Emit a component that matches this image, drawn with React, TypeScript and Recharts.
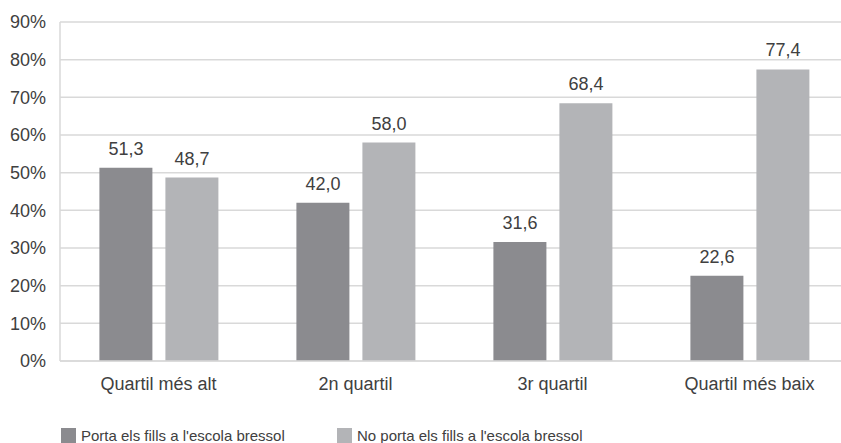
import { BarChart, Bar, XAxis, YAxis, CartesianGrid, Legend, LabelList } from "recharts";

// categories and values (%)
const quartils = ["Quartil més alt", "2n quartil", "3r quartil", "Quartil més baix"];
const porta = [51.3, 42.0, 31.6, 22.6];
const noPorta = [48.7, 58.0, 68.4, 77.4];
const yTicks = [0, 10, 20, 30, 40, 50, 60, 70, 80, 90];

const seriesNames = ["Porta els fills a l'escola bressol", "No porta els fills a l'escola bressol"];
const colors = ["#8b8b8f", "#b3b4b7"];

const data = quartils.map((q, i) => ({ name: q, porta: porta[i], noPorta: noPorta[i] }));

const fontFamily = "'Liberation Sans', Arial, sans-serif";
const textColor = "#404040";

const fmt = (v: any) => Number(v).toFixed(1).replace(".", ",");

function LegendBox() {
    return (
        <div style={{ display: "flex", fontFamily, fontSize: 15, lineHeight: "15px", color: textColor }}>
            {seriesNames.map((n, i) => (
                <div key={n} style={{ display: "flex", alignItems: "flex-start", width: i === 0 ? 276 : "auto" }}>
                    <span style={{ display: "inline-block", width: 15, height: 15, background: colors[i], marginRight: 5 }} />
                    <span style={{ whiteSpace: "nowrap" }}>{n}</span>
                </div>
            ))}
        </div>
    );
}

export default function App() {
    return (
        <div style={{ position: "absolute", left: 0, top: 0, width: 841, height: 443, overflow: "hidden", background: "#fff" }}>
            <BarChart
                width={848}
                height={443}
                data={data}
                margin={{ top: 22, right: 0, bottom: 52, left: 0 }}
                barCategoryGap="20%"
                barGap={13}
            >
                <CartesianGrid vertical={false} stroke="#d9d9d9" strokeWidth={1.5} />
                <XAxis
                    dataKey="name"
                    height={30}
                    tickLine={false}
                    tickSize={0}
                    axisLine={{ stroke: "#d9d9d9", strokeWidth: 1.5 }}
                    tickMargin={16}
                    tick={{ fill: textColor, fontSize: 18, fontFamily }}
                />
                <YAxis
                    width={60}
                    domain={[0, 90]}
                    ticks={yTicks}
                    tickFormatter={(v) => v + "%"}
                    tickLine={false}
                    tickSize={0}
                    axisLine={{ stroke: "#d9d9d9", strokeWidth: 1.5 }}
                    tickMargin={14}
                    tick={{ fill: textColor, fontSize: 18, fontFamily }}
                    interval={0}
                />
                <Legend
                    layout="horizontal"
                    verticalAlign="middle"
                    content={() => <LegendBox />}
                    wrapperStyle={{ top: 428, left: 61, width: 700 }}
                />
                <Bar dataKey="porta" name={seriesNames[0]} fill={colors[0]} isAnimationActive={false}>
                    <LabelList dataKey="porta" position="top" offset={13} formatter={fmt}
                        style={{ fill: textColor, fontSize: 18, fontFamily }} />
                </Bar>
                <Bar dataKey="noPorta" name={seriesNames[1]} fill={colors[1]} isAnimationActive={false}>
                    <LabelList dataKey="noPorta" position="top" offset={13} formatter={fmt}
                        style={{ fill: textColor, fontSize: 18, fontFamily }} />
                </Bar>
            </BarChart>
        </div>
    );
}
